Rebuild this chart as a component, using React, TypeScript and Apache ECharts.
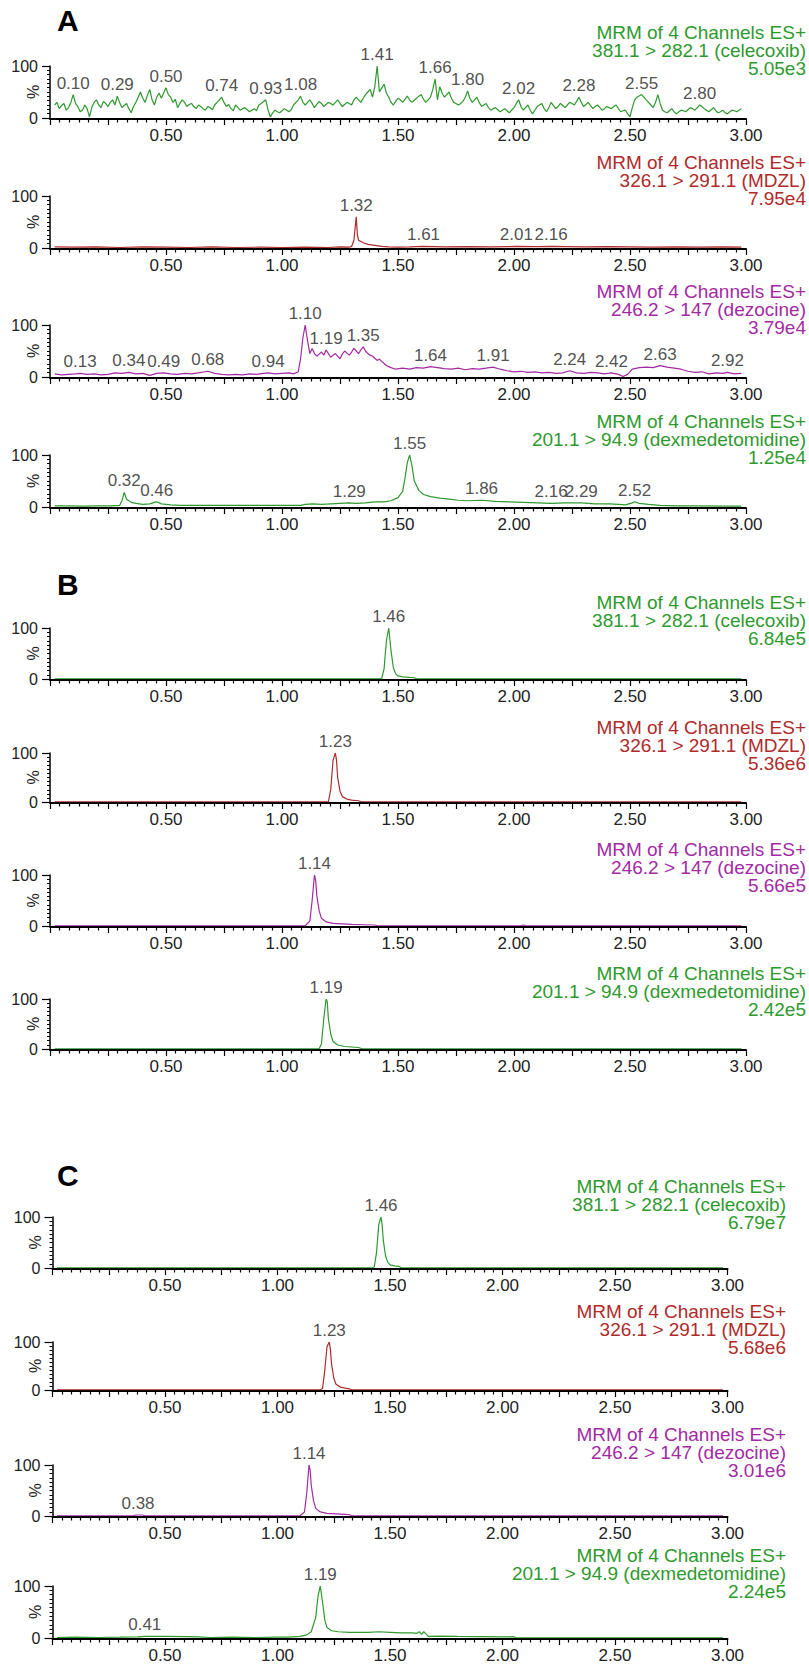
import React, { useEffect, useRef } from "react";
import * as echarts from "echarts";

// ---------- data: [retention time (min), relative intensity (%)] ----------
const A1_CELECOXIB: [number, number][] = [
  [0.02,25],[0.03,30],[0.04,18],[0.05,24],[0.06,28],[0.07,15],[0.08,20],[0.09,30],[0.10,45],[0.11,28],[0.12,22],[0.13,12],[0.14,15],[0.15,25],[0.16,18],[0.17,2],[0.18,20],[0.19,30],
  [0.20,35],[0.21,25],[0.22,20],[0.23,32],[0.24,28],[0.25,22],[0.26,30],[0.27,35],[0.28,25],[0.29,42],[0.30,30],[0.31,20],[0.32,24],[0.33,28],[0.34,18],[0.35,10],[0.36,22],[0.37,30],[0.38,40],[0.39,50],
  [0.40,38],[0.41,30],[0.42,44],[0.43,55],[0.44,35],[0.45,25],[0.46,40],[0.47,48],[0.48,38],[0.50,58],[0.51,45],[0.52,40],[0.53,30],[0.54,36],[0.55,20],[0.56,28],[0.57,35],[0.58,30],[0.59,22],
  [0.60,26],[0.61,28],[0.62,22],[0.63,18],[0.64,25],[0.65,22],[0.66,18],[0.67,15],[0.68,22],[0.69,20],[0.70,16],[0.71,25],[0.72,30],[0.73,35],[0.74,40],[0.75,30],[0.76,22],[0.77,26],[0.78,18],
  [0.79,14],[0.80,25],[0.81,20],[0.82,15],[0.83,18],[0.84,20],[0.85,16],[0.86,12],[0.87,15],[0.88,18],[0.89,14],[0.90,25],[0.91,28],[0.93,35],[0.94,15],[0.95,2],[0.96,10],[0.97,15],
  [0.98,12],[0.99,10],[1.00,14],[1.01,18],[1.02,15],[1.03,12],[1.04,16],[1.05,25],[1.06,30],[1.07,35],[1.08,42],[1.09,30],[1.10,25],[1.11,30],[1.12,35],[1.13,28],[1.14,20],[1.15,26],[1.16,32],
  [1.17,28],[1.18,22],[1.19,26],[1.20,30],[1.21,28],[1.22,25],[1.23,30],[1.24,35],[1.25,28],[1.26,22],[1.27,26],[1.28,30],[1.29,28],[1.30,25],[1.31,35],[1.32,40],[1.33,35],[1.34,30],[1.35,38],[1.36,45],
  [1.37,50],[1.38,55],[1.39,40],[1.40,60],[1.41,100],[1.42,50],[1.43,58],[1.44,65],[1.45,48],[1.46,40],[1.47,30],[1.48,25],[1.49,32],[1.50,38],[1.51,35],[1.52,30],[1.53,36],[1.54,42],
  [1.55,35],[1.56,30],[1.57,34],[1.58,38],[1.59,42],[1.60,45],[1.61,36],[1.62,30],[1.63,35],[1.64,40],[1.65,55],[1.66,75],[1.67,35],[1.68,60],[1.69,48],[1.70,40],[1.71,45],[1.72,50],
  [1.73,38],[1.74,30],[1.75,28],[1.76,25],[1.77,28],[1.78,32],[1.79,40],[1.80,52],[1.81,38],[1.82,30],[1.83,35],[1.84,40],[1.85,30],[1.86,22],[1.87,25],[1.88,28],[1.89,20],[1.90,15],[1.91,18],[1.92,20],
  [1.93,16],[1.94,12],[1.95,15],[1.96,18],[1.97,14],[1.98,10],[1.99,15],[2.00,20],[2.01,28],[2.02,35],[2.03,22],[2.04,15],[2.05,20],[2.06,25],[2.07,15],[2.08,8],[2.09,15],[2.10,22],[2.11,25],[2.12,28],
  [2.13,18],[2.14,12],[2.15,20],[2.16,30],[2.17,24],[2.18,18],[2.19,22],[2.20,28],[2.21,24],[2.22,20],[2.23,25],[2.24,30],[2.25,28],[2.26,25],[2.27,32],[2.28,40],[2.29,30],[2.30,22],[2.31,26],[2.32,30],
  [2.33,24],[2.34,18],[2.35,22],[2.36,25],[2.37,20],[2.38,15],[2.39,18],[2.40,22],[2.41,20],[2.42,18],[2.43,22],[2.44,25],[2.45,18],[2.46,12],[2.47,14],[2.48,15],[2.49,8],[2.50,2],[2.51,20],[2.52,35],
  [2.53,40],[2.55,45],[2.56,40],[2.57,35],[2.58,30],[2.59,25],[2.60,20],[2.61,30],[2.62,45],[2.63,28],[2.64,15],[2.65,12],[2.66,10],[2.67,14],[2.68,18],[2.69,12],[2.70,8],[2.71,12],[2.72,15],
  [2.73,14],[2.74,12],[2.75,16],[2.76,20],[2.77,18],[2.78,15],[2.79,20],[2.80,25],[2.81,22],[2.82,18],[2.83,15],[2.84,12],[2.85,16],[2.86,20],[2.87,14],[2.88,10],[2.89,12],[2.90,15],[2.91,10],[2.92,8],
  [2.93,12],[2.94,15],[2.95,14],[2.96,12],[2.97,15],[2.98,18],
];
const A1_PEAKS: [number, number][] = [
  [0.10,45],[0.29,42],[0.50,58],[0.74,40],[0.93,35],[1.08,42],[1.41,100],[1.66,75],[1.80,52],
  [2.02,35],[2.28,40],[2.55,45],[2.80,25],
];

const A2_MDZL: [number, number][] = [
  [0.02,2],[0.10,1.5],[0.20,2],[0.30,1],[0.40,2],[0.50,1.5],[0.60,1],[0.70,2],[0.80,1],[0.90,1.5],
  [1.00,1],[1.10,1.5],[1.20,1],[1.25,2],[1.29,1.5],[1.30,3],[1.31,15],[1.32,60],[1.325,25],[1.33,15],
  [1.35,10],[1.37,7],[1.40,5],[1.43,3],[1.46,2],[1.50,1.5],[1.55,2],[1.61,3],[1.70,2],[1.80,2.5],
  [1.90,2],[2.01,3],[2.10,2.5],[2.16,3],[2.30,2],[2.40,2.5],[2.50,2],[2.60,1.5],[2.70,2],[2.80,1.5],
  [2.90,2],[2.98,1.5],
];
const A2_PEAKS: [number, number][] = [[1.32,60],[1.61,4],[2.01,4],[2.16,4]];

const A3_DEZOCINE: [number, number][] = [
  [0.02,6],[0.05,4],[0.08,5],[0.11,6],[0.13,7],[0.16,5],[0.19,6],[0.22,4],[0.25,5],[0.28,8],
  [0.31,7],[0.34,9],[0.37,6],[0.40,7],[0.43,3],[0.46,7],[0.49,8],[0.52,6],[0.55,5],[0.58,7],
  [0.61,6],[0.64,8],[0.68,11],[0.71,7],[0.74,5],[0.77,4],[0.80,5],[0.83,4],[0.86,6],[0.89,5],
  [0.92,7],[0.94,8],[0.97,6],[1.00,7],[1.03,8],[1.05,6],[1.07,10],[1.08,35],[1.09,75],[1.10,100],
  [1.11,70],[1.12,45],[1.13,55],[1.14,45],[1.15,40],[1.16,44],[1.17,48],[1.18,42],[1.19,52],[1.20,45],[1.21,38],[1.22,42],[1.23,45],[1.24,40],[1.25,35],[1.26,44],[1.27,50],
  [1.28,46],[1.29,42],[1.30,48],[1.31,55],[1.32,50],[1.33,45],[1.34,52],[1.35,58],[1.36,50],[1.37,45],[1.38,42],[1.39,40],[1.40,36],[1.41,32],[1.42,34],[1.43,30],[1.44,26],[1.45,22],[1.46,20],[1.47,18],
  [1.49,15],[1.52,17],[1.55,15],[1.58,18],[1.61,17],[1.64,20],[1.67,18],[1.70,16],[1.73,15],[1.76,17],
  [1.79,14],[1.82,16],[1.85,15],[1.88,17],[1.91,19],[1.94,15],[1.97,12],[2.00,10],[2.03,11],[2.06,9],
  [2.09,10],[2.12,8],[2.15,9],[2.18,7],[2.21,8],[2.24,12],[2.27,8],[2.30,7],[2.33,9],[2.36,8],
  [2.39,6],[2.42,8],[2.45,5],[2.47,1],[2.49,5],[2.51,15],[2.54,18],[2.57,19],[2.60,18],[2.63,22],
  [2.66,19],[2.69,17],[2.72,15],[2.75,11],[2.78,9],[2.81,10],[2.84,6],[2.87,8],[2.90,7],[2.92,9],
  [2.95,6],[2.98,7],
];
const A3_PEAKS: [number, number][] = [
  [0.13,7],[0.34,9],[0.49,8],[0.68,11],[0.94,8],[1.10,100],[1.19,52],[1.35,58],[1.64,20],[1.91,19],
  [2.24,12],[2.42,8],[2.63,22],[2.92,9],
];

const A4_DEX: [number, number][] = [
  [0.02,2],[0.08,2],[0.14,1.5],[0.20,2],[0.26,2],[0.30,3],[0.31,12],[0.32,28],[0.33,15],[0.35,9],
  [0.37,7],[0.40,5],[0.43,6],[0.45,9],[0.46,10],[0.48,6],[0.52,4],[0.56,3],[0.60,3],[0.70,3],
  [0.80,3],[0.90,3],[1.00,3],[1.08,3],[1.10,5],[1.13,6],[1.17,5],[1.21,6],[1.25,7],[1.29,8],
  [1.32,7],[1.36,8],[1.40,10],[1.44,10],[1.47,12],[1.50,18],[1.52,30],[1.53,55],[1.54,85],[1.55,100],
  [1.56,80],[1.57,50],[1.59,32],[1.61,24],[1.64,20],[1.68,17],[1.72,15],[1.76,13],[1.80,12],[1.86,13],
  [1.92,11],[1.98,10],[2.04,9],[2.10,8],[2.16,7],[2.22,8],[2.29,8],[2.35,6],[2.41,6],[2.45,5],
  [2.48,4],[2.51,8],[2.52,10],[2.54,7],[2.58,5],[2.63,3],[2.70,2],[2.80,2],[2.90,1.5],[2.98,1.5],
];
const A4_PEAKS: [number, number][] = [
  [0.32,28],[0.46,10],[1.29,8],[1.55,100],[1.86,13],[2.16,7],[2.29,8],[2.52,10],
];

const B1_CELECOXIB: [number, number][] = [
  [0.02,0.5],[1.42,0.5],[1.43,1.5],[1.44,20],[1.45,75],[1.46,100],[1.47,55],[1.48,22],[1.49,10],
  [1.50,6],[1.52,4],[1.55,3],[1.57,2.5],[1.58,0.5],[2.98,0.5],
];
const B1_PEAKS: [number, number][] = [[1.46,100]];
const B2_MDZL: [number, number][] = [
  [0.02,0.5],[1.20,0.5],[1.21,25],[1.22,85],[1.23,100],[1.235,85],[1.24,50],[1.25,22],[1.26,11],
  [1.28,6],[1.30,4],[1.33,2.5],[1.34,0.5],[2.98,0.5],
];
const B2_PEAKS: [number, number][] = [[1.23,100]];
const B3_DEZOCINE: [number, number][] = [
  [0.02,0.5],[1.10,0.5],[1.12,10],[1.13,50],[1.14,100],[1.145,90],[1.15,60],[1.16,30],[1.17,15],
  [1.19,8],[1.22,5],[1.26,4],[1.30,3],[1.35,2.5],[1.40,2],[1.41,0.5],[2.03,0.5],[2.04,2],[2.05,0.5],
  [2.98,0.5],
];
const B3_PEAKS: [number, number][] = [[1.14,100]];
const B4_DEX: [number, number][] = [
  [0.02,0.5],[1.16,0.5],[1.17,10],[1.18,60],[1.19,100],[1.195,95],[1.20,60],[1.21,30],[1.22,15],
  [1.24,8],[1.27,5],[1.30,4],[1.33,3],[1.345,0.5],[2.98,0.5],
];
const B4_PEAKS: [number, number][] = [[1.19,100]];

const C1_CELECOXIB: [number, number][] = [
  [0.02,0.5],[1.42,0.5],[1.43,2],[1.44,30],[1.45,85],[1.46,100],[1.465,85],[1.47,55],[1.48,24],
  [1.49,11],[1.50,6],[1.52,4],[1.54,3],[1.55,0.5],[2.98,0.5],
];
const C1_PEAKS: [number, number][] = [[1.46,100]];
const C2_MDZL: [number, number][] = [
  [0.02,0.5],[1.19,0.5],[1.20,3],[1.21,40],[1.22,90],[1.23,100],[1.235,85],[1.24,55],[1.25,25],
  [1.26,12],[1.28,6],[1.30,4],[1.32,2.5],[1.33,0.5],[2.98,0.5],
];
const C2_PEAKS: [number, number][] = [[1.23,100]];
const C3_DEZOCINE: [number, number][] = [
  [0.02,0.5],[0.36,0.5],[0.37,2],[0.38,2],[0.40,2],[0.41,0.5],[1.10,0.5],[1.12,8],[1.13,45],
  [1.14,100],[1.145,90],[1.15,60],[1.16,30],[1.17,15],[1.19,8],[1.22,5],[1.26,4],[1.30,3],[1.32,2.5],
  [1.33,0.5],[2.98,0.5],
];
const C3_PEAKS: [number, number][] = [[0.38,2],[1.14,100]];
const C4_DEX: [number, number][] = [
  [0.02,1],[0.10,1.5],[0.20,1],[0.30,1.5],[0.38,2],[0.41,3],[0.50,3],[0.60,2.5],[0.65,2],[0.70,1],
  [0.80,1.5],[0.90,1],[1.00,1.5],[1.05,1.5],[1.10,3],[1.13,6],[1.15,12],[1.17,40],[1.18,80],[1.19,100],
  [1.20,70],[1.21,35],[1.22,20],[1.24,14],[1.27,12],[1.32,11],[1.40,11],[1.45,12],[1.50,11],[1.55,10],
  [1.60,10],[1.62,9],[1.63,12],[1.64,7],[1.65,12],[1.66,8],[1.67,3],[1.72,3.5],[1.80,3],[1.90,2.5],
  [2.00,2],[2.05,2.5],[2.06,0.5],[2.98,0.5],
];
const C4_PEAKS: [number, number][] = [[0.41,3],[1.19,100]];

const TITLE_HEAD = "MRM of 4 Channels ES+";
const TRANSITIONS = [
  "381.1 > 282.1 (celecoxib)",
  "326.1 > 291.1 (MDZL)",
  "246.2 > 147 (dezocine)",
  "201.1 > 94.9 (dexmedetomidine)",
];
const SCALES_A = ["5.05e3", "7.95e4", "3.79e4", "1.25e4"];
const SCALES_B = ["6.84e5", "5.36e6", "5.66e5", "2.42e5"];
const SCALES_C = ["6.79e7", "5.68e6", "3.01e6", "2.24e5"];
const GROUP_LETTERS = ["A", "B", "C"];

// ---------- layout / style ----------
const GREEN = "#2e9a2e";
const RED = "#b02a2a";
const PURPLE = "#a42aa4";
const CH_COLORS = [GREEN, RED, PURPLE, GREEN];
const FONT = "'Liberation Sans', Arial, Helvetica, sans-serif";

type Panel = {
  top: number; bottom: number; left: number; right: number;
  titleX: number; titleOff: number;
  color: string; transition: string; scale: string;
  trace: [number, number][]; peaks: [number, number][];
};

const GROUPS = [
  { letterY: 20, tops: [66, 196, 325, 455], bottoms: [118, 248, 377, 507], left: 50, right: 746, titleX: 806, titleOff: 2,
    scales: SCALES_A, traces: [A1_CELECOXIB, A2_MDZL, A3_DEZOCINE, A4_DEX], peaks: [A1_PEAKS, A2_PEAKS, A3_PEAKS, A4_PEAKS] },
  { letterY: 584, tops: [628, 753, 875, 999], bottoms: [679, 802, 926, 1049], left: 50, right: 746, titleX: 806, titleOff: 10,
    scales: SCALES_B, traces: [B1_CELECOXIB, B2_MDZL, B3_DEZOCINE, B4_DEX], peaks: [B1_PEAKS, B2_PEAKS, B3_PEAKS, B4_PEAKS] },
  { letterY: 1175, tops: [1217, 1342, 1465, 1586], bottoms: [1268, 1390, 1516, 1638], left: 52.5, right: 727.5, titleX: 786, titleOff: 5,
    scales: SCALES_C, traces: [C1_CELECOXIB, C2_MDZL, C3_DEZOCINE, C4_DEX], peaks: [C1_PEAKS, C2_PEAKS, C3_PEAKS, C4_PEAKS] },
];

const PANELS: Panel[] = [];
GROUPS.forEach((g) => {
  for (let k = 0; k < 4; k++) {
    PANELS.push({
      top: g.tops[k], bottom: g.bottoms[k], left: g.left, right: g.right,
      titleX: g.titleX, titleOff: g.titleOff, color: CH_COLORS[k],
      transition: TRANSITIONS[k], scale: g.scales[k], trace: g.traces[k], peaks: g.peaks[k],
    });
  }
});

function buildOption() {
  const grid: any[] = [];
  const xAxis: any[] = [];
  const yAxis: any[] = [];
  const series: any[] = [];
  const graphic: any[] = [];

  PANELS.forEach((p, i) => {
    grid.push({
      left: p.left, top: p.top, width: p.right - p.left, height: p.bottom - p.top,
      containLabel: false, outerBoundsMode: "none",
    });
    xAxis.push({
      type: "value", gridIndex: i, min: 0, max: 3, interval: 0.25, offset: 1,
      axisLine: { show: true, onZero: false, lineStyle: { color: "#000", width: 2 } },
      axisTick: { show: true, length: 6, lineStyle: { color: "#000", width: 1.2 } },
      minorTick: { show: true, splitNumber: 6, length: 3.5, lineStyle: { color: "#000", width: 1.2 } },
      splitLine: { show: false }, minorSplitLine: { show: false },
      axisLabel: {
        fontSize: 17, fontFamily: FONT, color: "#222", margin: 8,
        formatter: (v: number) => (v > 0 && Math.abs(v * 2 - Math.round(v * 2)) < 1e-6 ? v.toFixed(2) : ""),
      },
    });
    yAxis.push({
      type: "value", gridIndex: i, min: 0, max: 100, interval: 100,
      name: "%", nameLocation: "middle", nameRotate: 90, nameGap: 9, nameMoveOverlap: false,
      nameTextStyle: { fontSize: 16, fontFamily: FONT, color: "#222" },
      axisLine: { show: true, onZero: false, lineStyle: { color: "#000", width: 1.5 } },
      axisTick: { show: true, length: 8, lineStyle: { color: "#000", width: 1.2 } },
      minorTick: { show: true, splitNumber: 12, length: 3, lineStyle: { color: "#000", width: 1 } },
      splitLine: { show: false }, minorSplitLine: { show: false },
      axisLabel: { fontSize: 16, fontFamily: FONT, color: "#222", margin: 12, formatter: (v: number) => String(v) },
    });
    series.push({
      type: "line", xAxisIndex: i, yAxisIndex: i, data: p.trace, showSymbol: false, symbol: "none",
      lineStyle: { color: p.color, width: 1.2 }, silent: true, z: 3,
    });
    series.push({
      type: "scatter", xAxisIndex: i, yAxisIndex: i, symbolSize: 0, silent: true, z: 4,
      data: p.peaks,
      label: {
        show: true, position: "top", distance: 3, fontSize: 17, fontFamily: FONT, color: "#222",
        formatter: (d: any) => Number(d.value[0]).toFixed(2),
      },
    });
    graphic.push({
      type: "text", x: p.titleX, y: p.top + p.titleOff - 18, silent: true,
      style: {
        text: `${TITLE_HEAD}\n${p.transition}\n${p.scale}`, fill: p.color,
        fontSize: 19, fontFamily: FONT, lineHeight: 18, align: "right", verticalAlign: "middle",
      },
    });
  });

  GROUPS.forEach((g, k) => {
    graphic.push({
      type: "text", x: 57, y: g.letterY, silent: true,
      style: {
        text: GROUP_LETTERS[k], fill: "#000", fontSize: 30, fontWeight: "bold", fontFamily: FONT,
        align: "left", verticalAlign: "middle",
      },
    });
  });

  return { animation: false, backgroundColor: "#fff", grid, xAxis, yAxis, series, graphic };
}

export default function App() {
  const ref = useRef<HTMLDivElement>(null);
  useEffect(() => {
    document.body.style.margin = "0";
    if (!ref.current) return;
    const chart = echarts.init(ref.current, undefined, { renderer: "svg" });
    chart.setOption(buildOption());
    return () => chart.dispose();
  }, []);
  return <div ref={ref} style={{ width: 809, height: 1666, background: "#fff" }} />;
}
